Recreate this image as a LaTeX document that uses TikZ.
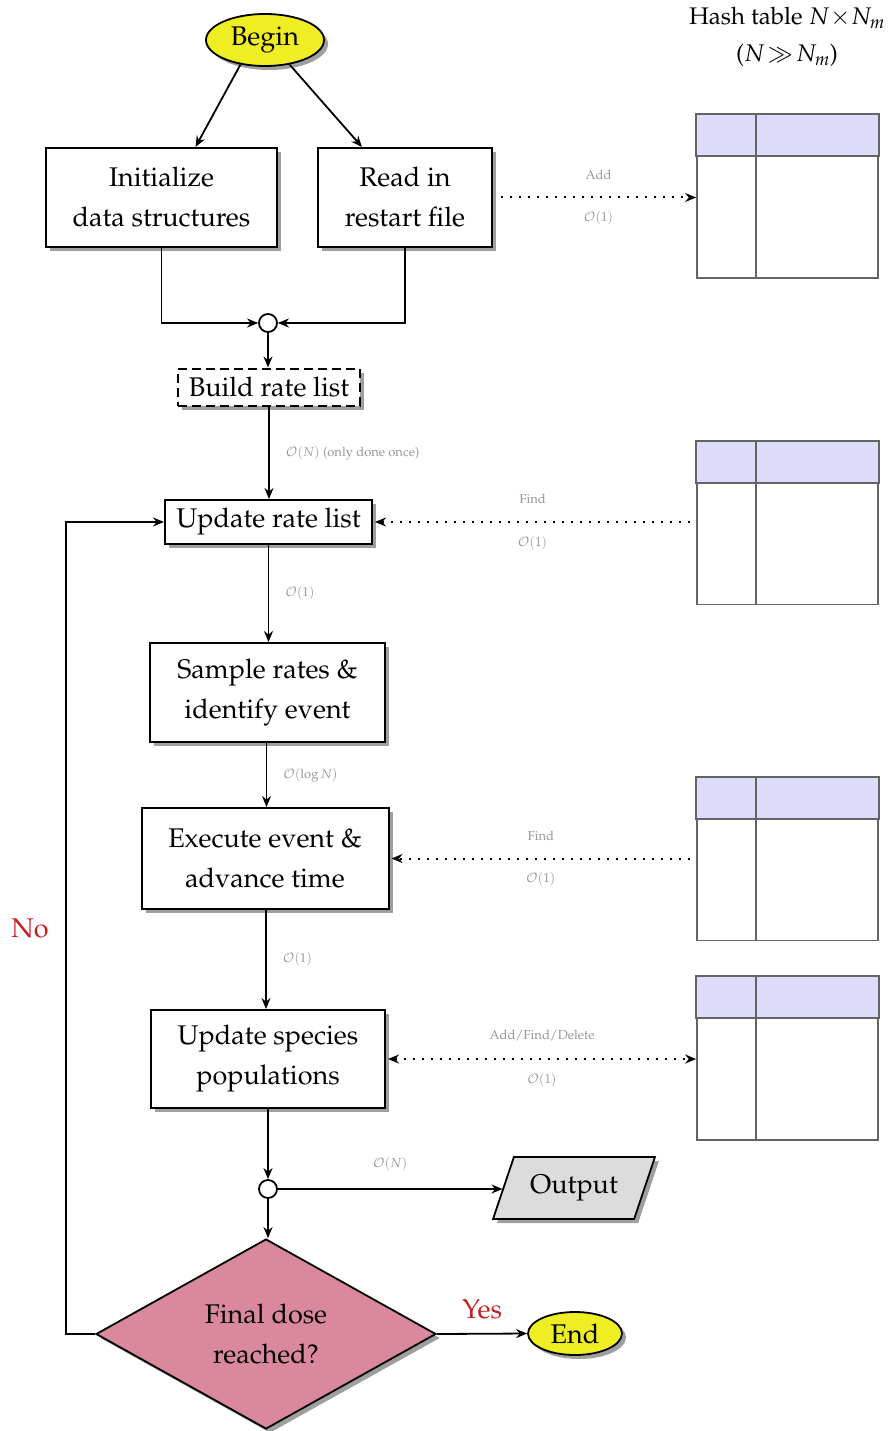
\documentclass[tikz,border=0pt]{standalone}
\usepackage[T1]{fontenc}
\usepackage{mathpazo}
\usetikzlibrary{shapes.geometric,arrows.meta,shadows}

\definecolor{beginyellow}{RGB}{238,238,34}
\definecolor{dosepink}{RGB}{217,136,158}
\definecolor{outgray}{RGB}{220,220,220}
\definecolor{hdrblue}{RGB}{220,220,250}
\definecolor{tabline}{RGB}{100,100,100}
\definecolor{lblgray}{RGB}{150,150,150}
\definecolor{answerred}{RGB}{200,30,30}

\tikzset{
  big/.style={font=\fontsize{27}{40}\selectfont},
  shad/.style={drop shadow={shadow xshift=4pt,shadow yshift=-4pt,opacity=0.5,fill=black!75}},
  proc/.style={draw, line width=2pt, fill=white, big, align=center, shad, inner sep=0pt},
  term/.style={ellipse, draw, line width=1.8pt, fill=beginyellow, big, inner sep=0pt, shad},
  junc/.style={circle, draw, line width=1.8pt, fill=white, minimum size=18pt, inner sep=0pt},
  arr/.style={-{Stealth[length=11pt,width=9pt]}, line width=1.8pt},
  dotarr/.style={line width=2pt, dash pattern=on 2pt off 7pt, -{Stealth[length=11pt,width=9pt]}},
  lbl/.style={text=lblgray, font=\fontsize{13}{15}\selectfont, inner sep=0pt},
  tabbox/.style={draw=tabline, line width=1.7pt, minimum width=181pt, minimum height=163pt, inner sep=0pt},
  hdr/.style={fill=hdrblue, draw=tabline, line width=1.7pt},
  ans/.style={text=answerred, big, inner sep=0pt},
}

\begin{document}
\begin{tikzpicture}[x=1pt,y=-1pt]
\useasboundingbox (0,0) rectangle (892,1431);

% title
\node[font=\fontsize{24}{37}\selectfont, align=center] (title) at (787,37)
  {Hash table $N\!\times\! N_m$\\($N\!\gg\! N_m$)};

% hash tables
\foreach \n/\y in {t1/196.5, t2/523, t3/859, t4/1058.5}{
  \node[tabbox] (\n) at (787.5,\y) {};
  \filldraw[hdr] (\n.north west) rectangle ([yshift=-42pt]\n.north east);
  \draw[tabline, line width=1.7pt] ([xshift=60pt]\n.north west) -- ([xshift=60pt]\n.south west);
}

% flow nodes
\node[term, minimum width=118pt, minimum height=52pt] (begin) at (265,40) {Begin};
\node[proc, minimum width=231pt, minimum height=99pt] (init) at (161.5,197.5) {Initialize\\data structures};
\node[proc, minimum width=174pt, minimum height=99pt] (read) at (405,197.5) {Read in\\restart file};
\node[junc] (c1) at (268,323) {};
\node[proc, dash pattern=on 9pt off 5pt, minimum width=182pt, minimum height=37pt] (build) at (269,387) {Build rate list};
\node[proc, minimum width=207pt, minimum height=44pt] (upd) at (268.5,522) {Update rate list};
\node[proc, minimum width=235pt, minimum height=99pt] (sample) at (267.5,692.5) {Sample rates \&\\identify event};
\node[proc, minimum width=247pt, minimum height=101pt] (exec) at (265,858.5) {Execute event \&\\advance time};
\node[proc, minimum width=234pt, minimum height=98pt] (species) at (268,1059) {Update species\\populations};
\node[junc] (c2) at (268,1189) {};
\node[trapezium, trapezium left angle=60, trapezium right angle=120, trapezium stretches=true,
      draw, line width=1.8pt, fill=outgray, big, shad, minimum width=162pt, minimum height=62pt,
      inner sep=0pt] (out) at (574,1188) {Output};
\node[diamond, draw, line width=1.8pt, fill=dosepink, big, align=center, shad,
      minimum width=340pt, minimum height=190pt, inner sep=0pt] (dose) at (266,1334) {Final dose\\reached?};
\node[term, minimum width=94pt, minimum height=43pt] (end) at (575,1333.5) {End};
\node[ans] (no) at (30,928) {No};

% connectors
\draw[arr] (begin.225) -- ([xshift=34pt]init.north);
\draw[arr] (begin.315) -- ([xshift=-43pt]read.north);
\draw[arr] (init.south) |- (c1.west);
\draw[arr] (read.south) |- (c1.east);
\draw[arr] (c1.south) -- (c1.south |- build.north);
\draw[arr] (build.south) -- node[lbl, right=16pt] {$\mathcal{O}(N)$ (only done once)} (build.south |- upd.north);
\draw[arr] (upd.south) -- node[lbl, right=16pt] {$\mathcal{O}(1)$} (upd.south |- sample.north);
\draw[arr] ([xshift=-1pt]sample.south) -- node[lbl, right=16pt] {$\mathcal{O}(\log N)$} ([xshift=-1pt]sample.south |- exec.north);
\draw[arr] ([xshift=1pt]exec.south) -- node[lbl, right=16pt] {$\mathcal{O}(1)$} ([xshift=1pt]exec.south |- species.north);
\draw[arr] (species.south) -- (c2.north);
\draw[arr] (c2.east) -- node[lbl, above=17pt] {$\mathcal{O}(N)$} (c2.east -| out.west);
\draw[arr] (c2.south) -- (c2.south |- dose.north);
\draw[arr] (dose.east) -- node[ans, above=14pt] {Yes} (end.west);
\draw[arr] (dose.west) -- ++(-29,0) |- (upd.west);

% hash table accesses
\draw[dotarr] ([xshift=8pt]read.east) -- node[lbl, above=17pt] {Add} node[lbl, below=13pt] {$\mathcal{O}(1)$} (read.east -| t1.west);
\draw[dotarr] ([xshift=-6pt]upd.east -| t2.west) -- node[lbl, above=17pt] {Find} node[lbl, below=13pt] {$\mathcal{O}(1)$} ([xshift=2pt]upd.east);
\draw[dotarr] ([xshift=-6pt]exec.east -| t3.west) -- node[lbl, above=17pt] {Find} node[lbl, below=13pt] {$\mathcal{O}(1)$} ([xshift=2pt]exec.east);
\draw[dotarr, {Stealth[length=11pt,width=9pt]}-{Stealth[length=11pt,width=9pt]}] ([xshift=2pt]species.east) -- node[lbl, above=17pt] {Add/Find/Delete} node[lbl, below=13pt] {$\mathcal{O}(1)$} (species.east -| t4.west);
\end{tikzpicture}
\end{document}
